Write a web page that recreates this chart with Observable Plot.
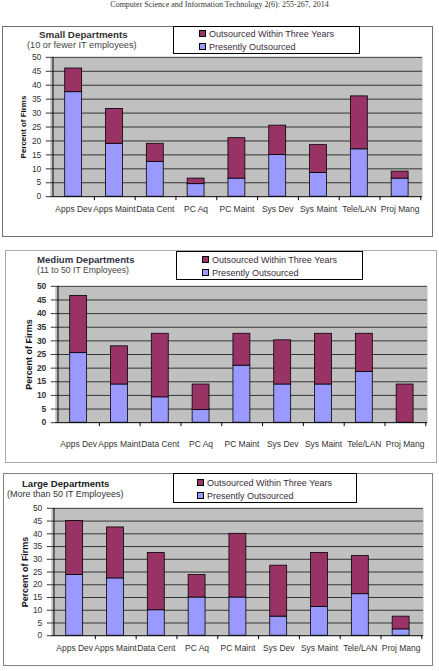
<!DOCTYPE html>
<html><head><meta charset="utf-8">
<script src="https://cdn.jsdelivr.net/npm/d3@7"></script>
<script src="https://cdn.jsdelivr.net/npm/@observablehq/plot@0.6"></script>
<style>
body{margin:0;background:#fff;font-family:"Liberation Sans",Arial,sans-serif;}
#page{position:relative;width:439px;height:671px;overflow:hidden;background:#fff;}
.hdr{position:absolute;left:0;width:439px;top:0px;text-align:center;font-family:"Liberation Serif","Times New Roman",serif;font-size:8px;line-height:9px;color:#333;}
.panel{position:absolute;box-sizing:border-box;background:#fff;}
.panel svg{position:absolute;left:0;top:0;overflow:visible;}
.title{position:absolute;font-weight:bold;white-space:nowrap;line-height:1;}
.sub{position:absolute;white-space:nowrap;line-height:1;}
.legend{position:absolute;box-sizing:border-box;background:#fff;border:1px solid #000;font-size:9px;color:#3a2a3a;}
.legend .it{position:absolute;white-space:nowrap;line-height:1;}
.legend .sw{display:inline-block;width:5px;height:5px;border:1px solid #000;margin-right:3px;vertical-align:0px;}
#p2 g[aria-label="y-axis tick label"] text{font-weight:bold;}
</style>
</head><body>
<div id="page">
  <div class="hdr">Computer Science and Information Technology 2(6): 255-267, 2014</div>
</div>
<script>
const categories = ["Apps Dev","Apps Maint","Data Cent","PC Aq","PC Maint","Sys Dev","Sys Maint","Tele/LAN","Proj Mang"];
const seriesNames = ["Presently Outsourced","Outsourced Within Three Years"];
const yTicks = [0,5,10,15,20,25,30,35,40,45,50];

const smallPresent  = [37.5, 19, 12.5, 4.5, 6.5, 15, 8.5, 17, 6.5];
const smallWithin   = [8.5, 12.5, 6.5, 2, 14.5, 10.5, 10, 19, 2.5];
const mediumPresent = [25.5, 14, 9.3, 4.7, 20.9, 14, 14, 18.6, 0];
const mediumWithin  = [21, 14, 23.3, 9.3, 11.7, 16.2, 18.6, 14, 14];
const largePresent  = [23.8, 22.5, 10, 15, 15, 7.5, 11.3, 16.3, 2.5];
const largeWithin   = [21.2, 20, 22.5, 8.8, 25, 20, 21.2, 15, 5];

const presentColor = "#9999ff";
const withinColor = "#993366";

function chart(present, within, o) {
  const rows = [];
  categories.forEach((c, i) => {
    rows.push({cat: c, series: seriesNames[0], value: present[i]});
    rows.push({cat: c, series: seriesNames[1], value: within[i]});
  });
  const plotW = o.width - o.ml - o.mr;
  const plotH = o.height - o.mt - o.mb;
  const step = plotW / categories.length;
  return Plot.plot({
    width: o.width, height: o.height,
    marginLeft: o.ml, marginRight: o.mr, marginTop: o.mt, marginBottom: o.mb,
    style: {fontFamily: "'Liberation Sans', Arial, sans-serif", fontSize: o.tickFont + "px", color: o.tickColor, background: "transparent", overflow: "visible"},
    x: {domain: categories, paddingInner: 0.59, paddingOuter: 0.295, tickSize: 0, tickPadding: o.xPad, label: null},
    y: {domain: [0, 50], ticks: yTicks, tickSize: 4, tickPadding: 5, label: "Percent of Firms", labelArrow: "none", labelAnchor: "center", labelOffset: o.labelOffset},
    color: {domain: seriesNames, range: [presentColor, withinColor]},
    marks: [
      Plot.frame({fill: "#c0c0c0", stroke: null}),
      Plot.ruleY(yTicks.filter(t => t > 0), {stroke: "#111", strokeWidth: 0.8}),
      Plot.barY(rows, {x: "cat", y: "value", fill: "series", stroke: "#000", strokeWidth: 0.8}),
      Plot.ruleY([0], {stroke: "#000"}),
      Plot.ruleX([categories[0]], {x: d => d, dx: -step / 2, stroke: "#000"}),
      Plot.ruleX(categories, {x: d => d, dx: step / 2, insetTop: plotH, insetBottom: -4, stroke: "#000"})
    ]
  });
}

function panel(id, p) {
  const page = document.getElementById("page");
  const div = document.createElement("div");
  div.className = "panel"; div.id = id;
  Object.assign(div.style, {left: p.x + "px", top: p.y + "px", width: p.w + "px", height: p.h + "px", border: "1px solid " + p.border});
  page.appendChild(div);
  const svg = chart(p.present, p.within, {width: p.w, height: p.h, ml: p.ml, mr: p.mr, mt: p.mt, mb: p.mb, tickFont: p.tickFont, tickColor: p.tickColor, xPad: p.xPad, labelOffset: p.labelOffset});
  svg.style.left = "-1px"; svg.style.top = "-1px";
  div.appendChild(svg);
  svg.querySelectorAll('g[aria-label="y-axis label"]').forEach(g => {
    g.style.fontWeight = "bold"; g.style.fontSize = p.labelFont + "px"; g.style.fill = p.labelColor;
    g.querySelectorAll("text, tspan").forEach(t => {
      if (t.childNodes.length === 1 && t.firstChild.nodeType === 3) t.textContent = t.textContent.replace(/[↑↓]\s*/g, "").trim();
    });
  });
  const t = document.createElement("div");
  t.className = "title"; t.textContent = p.title;
  Object.assign(t.style, p.titleStyle);
  div.appendChild(t);
  const s = document.createElement("div");
  s.className = "sub"; s.textContent = p.subtitle;
  Object.assign(s.style, p.subStyle);
  div.appendChild(s);
  const lg = document.createElement("div");
  lg.className = "legend";
  Object.assign(lg.style, {left: (p.lg.x - p.x - 1) + "px", top: (p.lg.y - p.y - 1) + "px", width: p.lg.w + "px", height: p.lg.h + "px"});
  [[withinColor, seriesNames[1], p.lg.t1], [presentColor, seriesNames[0], p.lg.t2]].forEach(([c, name, ty]) => {
    const it = document.createElement("div");
    it.className = "it";
    it.style.left = p.lg.sx + "px"; it.style.top = ty + "px";
    it.innerHTML = '<span class="sw" style="background:' + c + '"></span>' + name;
    lg.appendChild(it);
  });
  div.appendChild(lg);
}

panel("p1", {
  x: 2, y: 26, w: 431, h: 211, border: "#707070",
  ml: 48, mr: 9, mt: 31, mb: 40, tickFont: 8.5, tickColor: "#333", xPad: 9, labelOffset: 30, labelFont: 8, labelColor: "#111",
  present: smallPresent, within: smallWithin,
  title: "Small Departments", titleStyle: {left: "36px", top: "3px", fontSize: "9.8px", color: "#333"},
  subtitle: "(10 or fewer IT employees)", subStyle: {left: "24px", top: "14px", fontSize: "9.2px", color: "#444"},
  lg: {x: 173, y: 26, w: 187, h: 28, sx: 25, t1: 3, t2: 16}
});
panel("p2", {
  x: 5, y: 250, w: 432, h: 213, border: "#aaa",
  ml: 50, mr: 8, mt: 36, mb: 40, tickFont: 8.5, tickColor: "#333", xPad: 18, labelOffset: 30, labelFont: 9, labelColor: "#111",
  present: mediumPresent, within: mediumWithin,
  title: "Medium Departments", titleStyle: {left: "31px", top: "4px", fontSize: "9.6px", color: "#333344"},
  subtitle: "(11 to 50 IT Employees)", subStyle: {left: "31px", top: "15px", fontSize: "8.7px", color: "#444"},
  lg: {x: 176, y: 251, w: 187, h: 29, sx: 25, t1: 4, t2: 17}
});
panel("p3", {
  x: 3, y: 473, w: 430, h: 193, border: "#808080",
  ml: 48, mr: 8, mt: 35, mb: 30, tickFont: 8.5, tickColor: "#333", xPad: 9, labelOffset: 30, labelFont: 9, labelColor: "#111",
  present: largePresent, within: largeWithin,
  title: "Large Departments", titleStyle: {left: "18px", top: "5px", fontSize: "9.6px", color: "#222"},
  subtitle: "(More than 50 IT Employees)", subStyle: {left: "3px", top: "16px", fontSize: "9px", color: "#333"},
  lg: {x: 173, y: 473, w: 184, h: 30, sx: 23, t1: 5, t2: 18}
});
</script>
</body></html>
